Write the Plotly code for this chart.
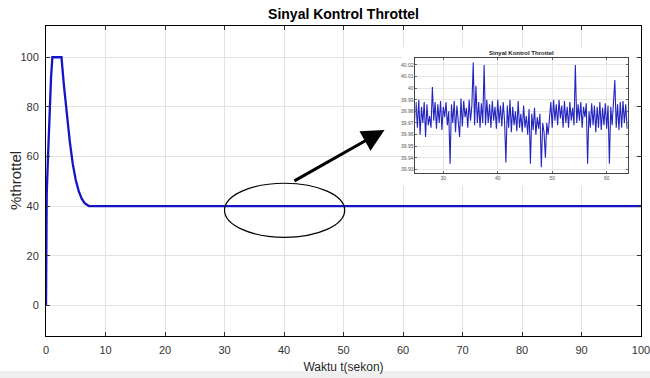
import plotly.graph_objects as go

# Main signal (time in seconds, throttle in %)
main_t = [0, 0.05, 0.12, 0.34, 0.6, 0.85, 1.07, 2.6, 3.0, 3.5, 4.0, 4.5, 5.0, 5.5, 6.0, 6.5, 7.2, 100]
main_y = [0, 30, 45, 60, 80, 92, 100, 100, 89, 77, 66, 57, 50.5, 46, 43, 41.2, 40, 40]

x_ticks = [0, 10, 20, 30, 40, 50, 60, 70, 80, 90, 100]
y_ticks = [0, 20, 40, 60, 80, 100]

# Inset (zoomed) signal, sampled every 0.25 s from 24.5 s
inset_t0 = 24.5
inset_dt = 0.25
inset_val = [
    39.985, 39.972, 39.988, 39.966, 39.990, 39.960, 39.984, 39.970,
    39.988, 39.958, 39.986, 39.968, 39.976, 39.966, 40.001, 39.972,
    39.988, 39.965, 39.986, 39.970, 39.989, 39.964, 39.984, 39.975,
    39.988, 39.968, 39.980, 39.935, 39.986, 39.970, 39.989, 39.962,
    39.985, 39.970, 39.958, 39.991, 39.967, 39.989, 39.975, 39.983,
    39.966, 39.990, 39.972, 39.985, 40.022, 39.968, 40.002, 39.970,
    39.988, 39.966, 39.987, 39.970, 40.020, 39.968, 39.990, 39.970,
    39.986, 39.966, 39.989, 39.972, 39.984, 39.965, 39.990, 39.970,
    39.985, 39.967, 39.988, 39.972, 39.936, 39.985, 39.966, 39.990,
    39.962, 39.984, 39.968, 39.980, 39.963, 39.989, 39.966, 39.978,
    39.962, 39.985, 39.966, 39.976, 39.960, 39.982, 39.935, 39.978,
    39.964, 39.983, 39.960, 39.975, 39.965, 39.978, 39.932, 39.970,
    39.962, 39.940, 39.970, 39.960, 39.975, 39.988, 39.966, 39.990,
    39.972, 39.986, 39.968, 39.990, 39.974, 39.985, 39.966, 39.989,
    39.970, 39.984, 39.966, 39.988, 39.972, 39.983, 39.968, 40.020,
    39.970, 39.986, 39.972, 39.988, 39.966, 39.984, 39.975, 39.987,
    39.935, 39.980, 39.966, 39.987, 39.968, 39.985, 39.962, 39.984,
    39.966, 39.988, 39.964, 39.983, 39.968, 39.987, 39.965, 39.985,
    39.935, 39.984, 39.968, 39.988, 40.007, 39.966, 39.986, 39.964,
    39.988, 39.966, 39.989, 39.970, 39.986, 39.965,
]
inset_t = [inset_t0 + inset_dt * i for i in range(len(inset_val))]
inset_x_ticks = [30, 40, 50, 60]
inset_y_ticks = [39.93, 39.94, 39.95, 39.96, 39.97, 39.98, 39.99, 40.0, 40.01, 40.02]
inset_y_labels = ["39.93", "39.94", "39.95", "39.96", "39.97", "39.98", "39.99", "40", "40.01", "40.02"]

FONT = "Liberation Sans, Arial, sans-serif"
BLUE = "#1414c8"

fig = go.Figure()
fig.add_trace(go.Scatter(x=main_t, y=main_y, mode="lines",
                         line=dict(color=BLUE, width=2.3), showlegend=False,
                         xaxis="x", yaxis="y"))
# invisible trace to create the white "pasted image" panel behind the inset
fig.add_trace(go.Scatter(x=[None], y=[None], mode="lines", showlegend=False,
                         hoverinfo="skip", xaxis="x2", yaxis="y2"))
fig.add_trace(go.Scatter(x=inset_t, y=inset_val, mode="lines",
                         line=dict(color="#2424c0", width=1.1), showlegend=False,
                         xaxis="x3", yaxis="y3"))

axis_common = dict(showline=True, linecolor="black", linewidth=1, mirror="ticks",
                   ticks="inside", ticklen=4, tickcolor="#333333", automargin=False,
                   showgrid=True, gridcolor="#e2e2e2", gridwidth=1, zeroline=False)

hidden = dict(visible=False, showgrid=False, zeroline=False, range=[0, 1])

fig.update_layout(
    width=650, height=378,
    margin=dict(l=46, r=9, t=26, b=42, autoexpand=False),
    paper_bgcolor="white", plot_bgcolor="white",
    font=dict(family=FONT, color="#262626"),
    title=dict(text="<b>Sinyal Kontrol Throttel</b>", x=0.5285, xanchor="center",
               y=0.963, yanchor="middle", font=dict(size=14, color="black")),
    xaxis=dict(range=[0, 100.0001], tickvals=x_ticks, domain=[0, 1],
               tickfont=dict(size=11, color="#333333"), ticklabelstandoff=4,
               ticklabeloverflow="allow",
               title=dict(text="Waktu t(sekon)", font=dict(size=12, color="#262626"), standoff=7),
               **axis_common),
    yaxis=dict(range=[-12.4, 112.6], tickvals=y_ticks, domain=[0, 1],
               tickfont=dict(size=11, color="#333333"), ticklabelstandoff=4,
               **axis_common),
    xaxis2=dict(domain=[0.598, 0.988], anchor="y2", **hidden),
    yaxis2=dict(domain=[0.484, 0.932], anchor="x2", **hidden),
    xaxis3=dict(domain=[0.621, 0.978], anchor="y3", range=[24.9, 63.9],
                tickvals=inset_x_ticks, tickfont=dict(size=5, color="#555555"),
                showline=True, linecolor="#444444", linewidth=0.8, mirror="ticks",
                ticks="inside", ticklen=2, tickcolor="#666666", automargin=False,
                showgrid=True, gridcolor="#e6e6e6", zeroline=False),
    yaxis3=dict(domain=[0.526, 0.897], anchor="x3", range=[39.927, 40.026],
                tickvals=inset_y_ticks, ticktext=inset_y_labels,
                tickfont=dict(size=5, color="#555555"),
                showline=True, linecolor="#444444", linewidth=0.8, mirror="ticks",
                ticks="inside", ticklen=2, tickcolor="#666666", automargin=False,
                showgrid=True, gridcolor="#e6e6e6", zeroline=False),
    shapes=[
        dict(type="circle", xref="x", yref="y", x0=30.0, x1=50.2, y0=27.4, y1=49.2,
             line=dict(color="black", width=1.2)),
        dict(type="rect", xref="paper", yref="paper", x0=-0.1, x1=1.1,
             y0=-0.1355, y1=-0.1129, fillcolor="#efefef", line=dict(width=0), layer="below"),
    ],
    annotations=[
        dict(x=56.9, y=70.7, ax=41.5, ay=49.8, xref="x", yref="y", axref="x", ayref="y",
             text="", showarrow=True, arrowhead=2, arrowsize=1.5, arrowwidth=3,
             arrowcolor="black"),
        dict(text="<b>Sinyal Kontrol Throttel</b>", xref="paper", yref="paper",
             x=(0.621 + 0.978) / 2, y=0.897, yanchor="bottom", xanchor="center",
             showarrow=False, font=dict(size=6, color="#222222")),
        dict(text="%throttel", xref="paper", yref="paper", x=-0.052, y=0.5,
             xanchor="center", yanchor="middle", textangle=-90, showarrow=False,
             font=dict(size=15, color="#262626")),
    ],
)

fig.write_html("out.html")
